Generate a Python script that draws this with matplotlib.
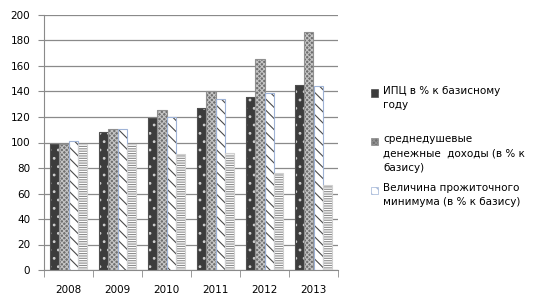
import matplotlib
matplotlib.use("Agg")
import matplotlib.pyplot as plt
import numpy as np
from matplotlib.patches import Rectangle

years = ["2008", "2009", "2010", "2011", "2012", "2013"]
cpi = [99, 108, 119.5, 127, 135.5, 145]
income = [99, 110.5, 125.5, 140, 165.5, 187]
subsistence = [101, 110.5, 120, 134, 138.5, 144]
fourth = [98.5, 98.5, 91, 92, 76, 66.5]

labels = ["ИПЦ в % к базисному\nгоду",
          "среднедушевые\nденежные  доходы (в % к\nбазису)",
          "Величина прожиточного\nминимума (в % к базису)"]

plt.rcParams['font.family'] = ['DejaVu Sans']
plt.rcParams['hatch.linewidth'] = 0.8

fig = plt.figure(figsize=(5.37, 3.01), dpi=100)
ax = fig.add_axes([44/537, 1-270/301, 294/537, 255/301])

x = np.arange(len(years))
w = 0.186
offs = np.array([-1.5, -0.5, 0.5, 1.5]) * w

styles = [
    dict(fc="#3c3c3c", hatch="..", hc="#d0d0d0", ec="#505050"),
    dict(fc="#707070", hatch="xxxxxxx", hc="#c4c4c4", ec="#909090"),
    dict(fc="white", hatch="\\\\\\", hc="#4a4a4a", ec="#9fb3d6"),
    dict(fc="white", hatch="-------", hc="#8c8c8c", ec="#d0d0d0"),
]
series = [cpi, income, subsistence, fourth]
for s, vals, o in zip(styles, series, offs):
    ax.bar(x + o, vals, w, color=s["fc"], edgecolor="none", zorder=2)
    ax.bar(x + o, vals, w, facecolor="none", edgecolor=s["hc"], hatch=s["hatch"], linewidth=0, zorder=3)
    ax.bar(x + o, vals, w, facecolor="none", edgecolor=s["ec"], linewidth=0.8, zorder=4)

ax.set_xlim(-0.5, len(years) - 0.5)
ax.set_ylim(0, 200)
ax.set_yticks(range(0, 201, 20))
ax.yaxis.grid(True, color="#8a8a8a", linewidth=0.9, zorder=0)
ax.set_axisbelow(True)
ax.set_xticks(x)
ax.set_xticklabels(years, fontsize=7.5)
ax.set_xticks(np.arange(-0.5, len(years)), minor=True)
ax.tick_params(axis='x', which='major', length=0, pad=11)
ax.tick_params(axis='x', which='minor', length=5, color="#8a8a8a")
ax.tick_params(axis='y', length=4, color="#8a8a8a", labelsize=7.5, pad=6)
for sp in ["top", "right"]:
    ax.spines[sp].set_visible(False)
ax.spines["left"].set_color("#8a8a8a")
ax.spines["bottom"].set_color("#8a8a8a")

# legend (manual)
tops = [86, 134, 183]
for s, lab, t in zip(styles[:3], labels, tops):
    yy = 1 - (t + 7) / 301
    fig.patches.append(Rectangle((371/537, yy - 3.5/301), 7/537, 7/301, transform=fig.transFigure,
                                 facecolor=s["fc"], edgecolor=s["ec"], hatch=s["hatch"], linewidth=0.5))
    fig.text(383/537, 1 - t/301, lab, fontsize=7.5, va="top", ha="left", linespacing=1.55)

fig.savefig("out.png", dpi=100)
